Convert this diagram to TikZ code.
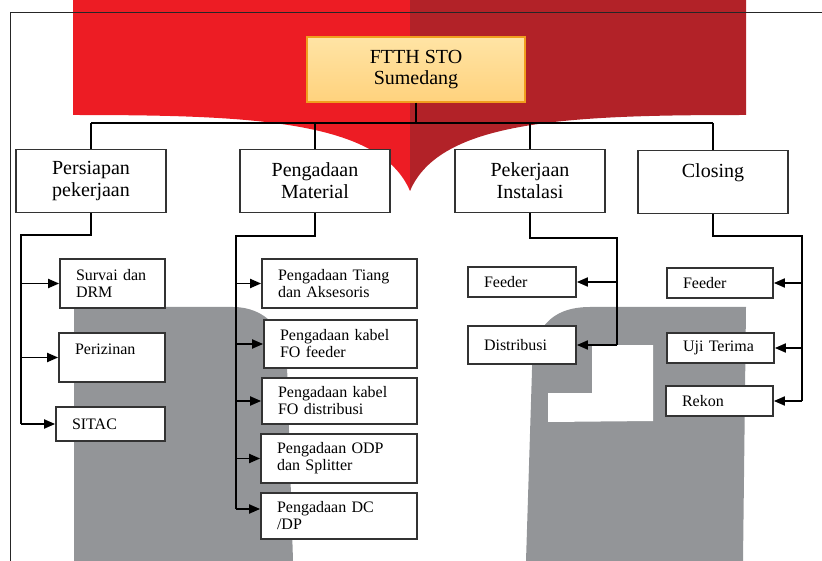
\documentclass[tikz,border=0pt]{standalone}
\usepackage{fontspec}
\setmainfont{Liberation Serif}
\usetikzlibrary{arrows.meta}
\definecolor{redleft}{RGB}{237,28,36}
\definecolor{redright}{RGB}{178,34,40}
\definecolor{greyband}{RGB}{147,149,152}
\definecolor{stoedge}{RGB}{240,158,30}
\definecolor{stotop}{RGB}{255,228,165}
\definecolor{stobot}{RGB}{255,210,125}
\tikzset{
  stobox/.style={draw=stoedge,line width=1.2pt,top color=stotop,bottom color=stobot,
    minimum width=218pt,minimum height=65pt,align=center,inner sep=0pt,
    font=\fontsize{20}{21}\selectfont},
  phasebox/.style={draw=black!80,fill=white,line width=1.7pt,minimum width=150pt,
    minimum height=63pt,align=center,inner sep=0pt,font=\fontsize{20}{22}\selectfont},
  taskbox/.style={draw=black!80,fill=white,line width=1.7pt,align=left,
    inner xsep=16pt,inner ysep=0pt,font=\fontsize{16}{17}\selectfont},
  link/.style={line width=1.8pt},
  feed/.style={line width=1.8pt,-{Triangle[length=11pt,width=9pt]}}
}
\begin{document}
\begin{tikzpicture}[x=1pt,y=-1pt]
\def\leftband{(74,561) -- (74,307) -- (233,307) .. controls (265,307) and (287,330) .. (287,365) -- (293,561) -- cycle}
\def\rightband{(526,561) -- (532,370) .. controls (532,330) and (550,307) .. (590,307) -- (746,307) -- (743,561) -- cycle}
\def\notch{(592,345) -- (653,345) -- (653,421) -- (548,422) -- (548,393) -- (592,393) -- cycle}

\useasboundingbox (0,0) rectangle (822,561);
\fill[redleft] (73,0) -- (73,115) .. controls (250,115) and (380,120) .. (410,191) -- (410,0) -- cycle;
\fill[redright] (410,0) -- (410,191) .. controls (440,120) and (570,115) .. (746,115) -- (746,0) -- cycle;
\fill[greyband]\leftband;
\fill[greyband]\rightband;
\fill[white]\notch;
\draw[line width=.9pt,black!85] (10,561) -- (10,12) -- (822,12);

\node[stobox] (sto) at (416,69.5) {FTTH STO\\Sumedang};
\node[phasebox] (prep) at (91,181) {Persiapan\\pekerjaan};
\node[phasebox] (buy) at (315,181) {Pengadaan\\Material};
\node[phasebox] (inst) at (530,181) {Pekerjaan\\Instalasi};
\node[phasebox] (close) at (713,182) {Closing\\\mbox{}};

\node[taskbox,text width=73pt,minimum height=49pt] (drm) at (112.5,283.5) {Survai dan\\DRM};
\node[taskbox,text width=74pt,minimum height=49pt] (izin) at (112,357.5) {Perizinan\\\mbox{}};
\node[taskbox,text width=77pt,minimum height=34pt] (sitac) at (110.5,424) {SITAC};

\node[taskbox,text width=123pt,minimum height=49pt] (tiang) at (339.5,283.5) {Pengadaan Tiang\\dan Aksesoris};
\node[taskbox,text width=121pt,minimum height=48pt] (fofeed) at (340.5,344) {Pengadaan kabel\\FO feeder};
\node[taskbox,text width=123pt,minimum height=46pt] (fodist) at (339.5,401) {Pengadaan kabel\\FO distribusi};
\node[taskbox,text width=124pt,minimum height=49pt] (odp) at (339,458.5) {Pengadaan ODP\\dan Splitter};
\node[taskbox,text width=124pt,minimum height=46pt] (dc) at (339,516) {Pengadaan DC\\/DP};

\node[taskbox,text width=76pt,minimum height=30pt] (fdr) at (522,282) {Feeder};
\node[taskbox,text width=76pt,minimum height=38pt] (dist) at (522,345) {Distribusi};

\node[taskbox,text width=74pt,minimum height=30pt] (cfdr) at (720,283) {Feeder};
\node[taskbox,text width=75pt,minimum height=30pt] (uji) at (720.5,348) {Uji Terima};
\node[taskbox,text width=75pt,minimum height=30pt] (rekon) at (719.5,401) {Rekon};

\coordinate (bus) at (0,123);
\coordinate (prepT) at (21,235);
\coordinate (buyT) at (236,236);
\coordinate (instT) at (617,238);
\coordinate (closeT) at (802,236);
\coordinate (dcin) at ([yshift=7pt]dc.west);

\draw[link] (sto.south) -- (sto.south |- bus);
\draw[link] (prep.north |- bus) -- (close.north |- bus);
\foreach \n in {prep,buy,inst,close} \draw[link] (\n.north |- bus) -- (\n.north);

\draw[link] (prep.south) |- (prepT) -- (prepT |- sitac.west);
\foreach \n in {drm,izin,sitac} \draw[feed] (prepT |- \n.west) -- (\n.west);

\draw[link] (buy.south) |- (buyT) -- (buyT |- dcin);
\foreach \n in {tiang,fofeed,fodist,odp} \draw[feed] (buyT |- \n.west) -- (\n.west);
\draw[feed] (buyT |- dcin) -- (dcin);

\draw[link] (inst.south) |- (instT) -- (instT |- dist.east);
\foreach \n in {fdr,dist} \draw[feed] (instT |- \n.east) -- (\n.east);

\draw[link] (close.south) |- (closeT) -- (closeT |- rekon.east);
\foreach \n in {cfdr,uji,rekon} \draw[feed] (closeT |- \n.east) -- (\n.east);
\end{tikzpicture}
\end{document}
